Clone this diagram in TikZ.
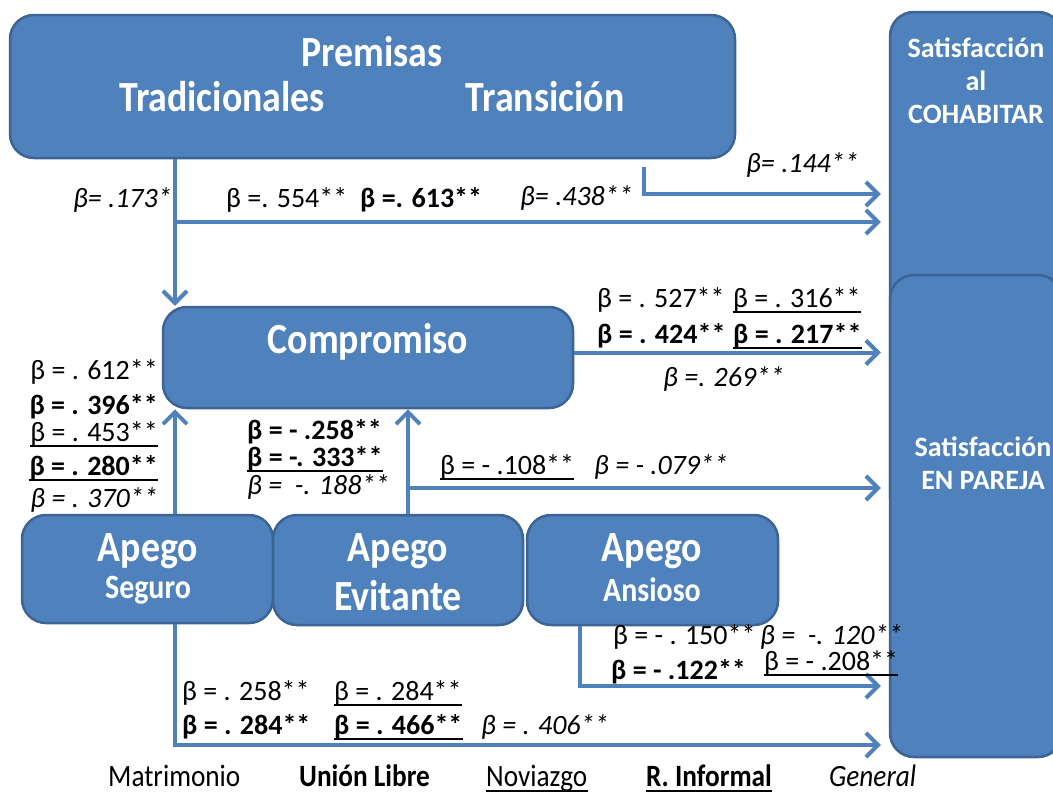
\documentclass[tikz,border=0pt]{standalone}
\usepackage{fontspec}
\setmainfont{Carlito}
\newfontfamily\estrecha{Carlito}[FakeStretch=0.88]
\usetikzlibrary{arrows.meta}
\definecolor{azul}{HTML}{4F81BD}
\definecolor{borde}{HTML}{3C6494}

\begin{document}
\begin{tikzpicture}[x=1pt, y=-1pt,
	caja/.style={draw=borde, fill=azul, line width=2.5pt, rounded corners=24pt, inner sep=0pt},
	titulo/.style={text=white, font=\estrecha\bfseries\fontsize{43}{45}\selectfont},
	subtitulo/.style={text=white, font=\estrecha\bfseries\fontsize{34}{36}\selectfont},
	satis/.style={text=white, align=center, font=\bfseries\fontsize{28}{33}\selectfont},
	flecha/.style={draw=azul, line width=4pt, -{Straight Barb[length=12pt, width=24pt]}},
	coef/.style={inner sep=0pt, font=\fontsize{28}{30}\selectfont},
	neg/.style={coef, font=\fontsize{28}{30}\selectfont\bfseries},
	cur/.style={coef, font=\fontsize{28}{30}\selectfont\itshape},
	raya/.style={append after command={([yshift=-5pt]\tikzlastnode.base west) edge[draw=black, line width=2.5pt] ([yshift=-5pt]\tikzlastnode.base east)}},
	ley/.style={inner sep=0pt, anchor=base west, font=\estrecha\fontsize{31}{33}\selectfont}]
	\useasboundingbox (0,0) rectangle (1053,795);
	\fill[white] (0,0) rectangle (1053,795);
	\clip (0,0) rectangle (1053,795);

	\node[caja, minimum width=725pt, minimum height=143pt] (premisas) at (372.5,86.5) {};
	\node[caja, minimum width=172pt, minimum height=508pt] (cohab) at (976,266) {};
	\node[caja, minimum width=172pt, minimum height=482pt] (pareja) at (976,516) {};
	\node[caja, minimum width=410pt, minimum height=101pt] (compromiso) at (368,357.5) {};
	\node[caja, minimum width=251pt, minimum height=108pt] (seguro) at (147.5,569) {};
	\node[caja, minimum width=250pt, minimum height=110pt] (evitante) at (398,570) {};
	\node[caja, minimum width=251pt, minimum height=110pt] (ansioso) at (652.5,570) {};

	\node[titulo] (tpremisas) at (372,52) {Premisas};
	\node[titulo] (ttrad) at (222,97) {Tradicionales};
	\node[titulo] (ttrans) at (545,97) {Transición};
	\node[titulo] (tcomp) at (368,342) {Compromiso};
	\node[titulo] (tapego1) at (148,551) {Apego};
	\node[subtitulo] (tseguro) at (148,590) {Seguro};
	\node[titulo] (tapego2) at (398,551) {Apego};
	\node[titulo] (tevitante) at (398,596) {Evitante};
	\node[titulo] (tapego3) at (652,551) {Apego};
	\node[subtitulo] (tansioso) at (652,590) {Ansioso};
	\node[satis] (tcohab) at (976,81) {Satisfacción\\al\\COHABITAR};
	\node[satis] (tpareja) at (983,463) {Satisfacción\\EN PAREJA};

	\coordinate (a) at (175,222);
	\coordinate (b) at (644,167);
	\coordinate (b2) at (644,194);
	\coordinate (d) at (408,488);
	\coordinate (e) at (175,745);
	\coordinate (f) at (580,686);

	\draw[flecha] (premisas.south -| a) -- (compromiso.north -| a);
	\draw[flecha] (a) -- ([xshift=-8pt]cohab.west |- a);
	\draw[flecha] (b) -- (b2) -- ([xshift=-8pt]cohab.west |- b2);
	\draw[flecha] ([yshift=5pt]compromiso.east) -- ([xshift=-8pt,yshift=5pt]pareja.west |- compromiso.east);
	\draw[flecha] (seguro.north -| a) -- (compromiso.south -| a);
	\draw[flecha] (evitante.north -| d) -- (compromiso.south -| d);
	\draw[flecha] (d) -- ([xshift=-8pt]pareja.west |- d);
	\draw[flecha] (seguro.south -| e) -- (e) -- ([xshift=-8pt]pareja.west |- e);
	\draw[flecha] (ansioso.south -| f) -- (f) -- ([xshift=-8pt]pareja.west |- f);

	\node[cur, anchor=base east] (l173) at (172,207) {β= .173*};
	\node[coef, anchor=base west] (l554) at (226,207) {β =. 554**};
	\node[neg, anchor=base west] (l613) at (360,207) {β =. 613**};
	\node[cur, anchor=base west] (l438) at (520,205) {β= .438**};
	\node[cur, anchor=base west] (l144) at (746,172) {β= .144**};

	\node[coef, anchor=base west] (l527) at (597,307) {β = . 527**};
	\node[coef, raya, anchor=base west] (l316) at (733,307) {β = . 316**};
	\node[neg, anchor=base west] (l424) at (597,343) {β = . 424**};
	\node[neg, raya, anchor=base west] (l217) at (733,343) {β = . 217**};
	\node[cur, anchor=base west] (l269) at (663,386) {β =. 269**};

	\node[coef, anchor=base east] (l612) at (158,379) {β = . 612**};
	\node[neg, anchor=base east] (l396) at (158,414) {β = . 396**};
	\node[coef, raya, anchor=base east] (l453) at (158,441) {β = . 453**};
	\node[neg, raya, anchor=base east] (l280) at (158,475) {β = . 280**};
	\node[cur, anchor=base east] (l370) at (158,507) {β = . 370**};

	\node[neg, anchor=base west] (l258a) at (247,439) {β = - .258**};
	\node[neg, raya, anchor=base west] (l333) at (247,466) {β = -. 333**};
	\node[cur, anchor=base west] (l188) at (247,494) {β =\ \ -. 188**};
	\node[coef, raya, anchor=base west] (l108) at (440,474) {β = - .108**};
	\node[cur, anchor=base west] (l079) at (594,474) {β = - .079**};

	\node[coef, anchor=base west] (l150) at (613,644) {β = - . 150**};
	\node[cur, anchor=base west] (l120) at (760,644) {β =\ \ -. 120**};
	\node[neg, anchor=base west] (l122) at (611,679) {β = - .122**};
	\node[coef, raya, anchor=base west] (l208) at (764,670) {β = - .208**};

	\node[coef, anchor=base west] (l258b) at (182,700) {β = . 258**};
	\node[coef, raya, anchor=base west] (l284a) at (334,700) {β = . 284**};
	\node[neg, anchor=base west] (l284b) at (182,734) {β = . 284**};
	\node[neg, raya, anchor=base west] (l466) at (334,734) {β = . 466**};
	\node[cur, anchor=base west] (l406) at (481,734) {β = . 406**};

	\node[ley] (matrimonio) at (108,786) {Matrimonio};
	\node[ley, font=\estrecha\fontsize{31}{33}\selectfont\bfseries] (union) at (299,786) {Unión Libre};
	\node[ley, raya] (noviazgo) at (486,786) {Noviazgo};
	\node[ley, raya, font=\estrecha\fontsize{31}{33}\selectfont\bfseries] (informal) at (646,786) {R. Informal};
	\node[ley, font=\estrecha\fontsize{31}{33}\selectfont\itshape] (general) at (829,786) {General};
\end{tikzpicture}
\end{document}
